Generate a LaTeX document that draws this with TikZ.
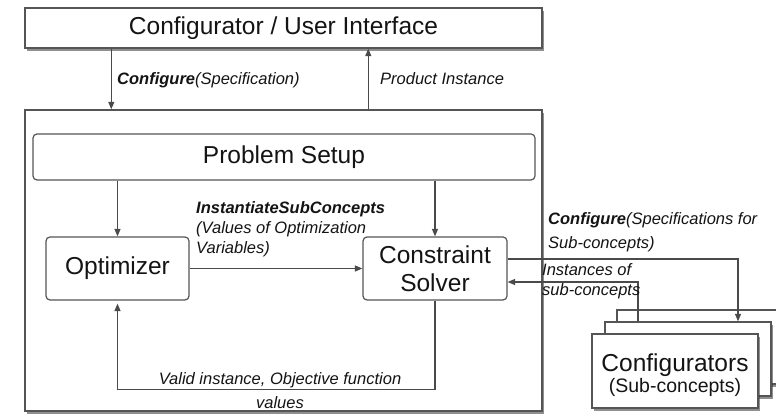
\documentclass[tikz,border=0pt]{standalone}
\usepackage{fontspec}
\setmainfont{Liberation Sans}
\usetikzlibrary{shadows,arrows.meta,calc}
\definecolor{linegray}{HTML}{4A4A4A}
\definecolor{boxgray}{HTML}{555555}
\definecolor{txt}{HTML}{141414}
\begin{document}
\begin{tikzpicture}[x=1pt,y=-1pt,
  line/.style={draw=linegray, line width=1.2pt},
  arr/.style={line, -{Triangle[length=7.5pt,width=6pt]}},
  shad/.style={drop shadow={shadow xshift=1.5pt,shadow yshift=-3pt,opacity=0.55,fill=black!80}},
  bigbox/.style={draw=boxgray, line width=1.4pt, fill=white, shad},
  rbox/.style={draw=boxgray, line width=1.2pt, fill=white, rounded corners=4pt, text=txt},
  card/.style={draw=boxgray, line width=1.3pt, fill=white, shad, minimum width=166pt, minimum height=74pt},
  big/.style={font=\fontsize{24.5}{28}\selectfont, text=txt},
  lab/.style={font=\fontsize{16.5}{20}\selectfont\itshape, align=left, inner sep=0pt, text=txt},
]
\fill[white] (0,0) rectangle (776,419);
\useasboundingbox (0,0) rectangle (776,419);

% main boxes
\node[bigbox, big, minimum width=517pt, minimum height=40pt] (ui) at (283.5,28) {Configurator / User Interface};
\node[bigbox, minimum width=517pt, minimum height=301pt] (sys) at (283.5,260.5) {};
\node[rbox, big, minimum width=502pt, minimum height=46pt] (ps) at (284,157) {Problem Setup};
\node[rbox, big, minimum width=143pt, minimum height=63pt] (opt) at (117.5,268.5) {Optimizer};
\node[rbox, big, minimum width=144pt, minimum height=63pt, align=center, inner sep=0pt] (cs) at (435,268.5) {Constraint\\Solver};

% sub-configurator cards
\node[card] (cfgb) at (700,347) {};
\node[card] (cfgm) at (688,359) {};
\node[card] (cfg) at (675,371) {};
\node[align=center, text=txt, inner sep=0pt] (cfgt) at ($(cfg.center)+(0,4)$)
  {{\fontsize{24.5}{26}\selectfont Configurators}\\[1pt]{\fontsize{19.5}{22}\selectfont (Sub-concepts)}};

% connectors
\draw[arr] ($(ui.south west)+(87,0)$) -- ($(sys.north west)+(87,0)$);
\draw[arr] ($(sys.north west)+(344,0)$) -- ($(ui.south west)+(344,0)$);
\draw[arr] (ps.south -| opt.north) -- (opt.north);
\draw[arr] (ps.south -| cs.north) -- (cs.north);
\draw[arr] (opt.east) -- (cs.west);
\draw[arr, shorten >=3pt] (cs.south) -- ++(0,89) -| (opt.south);
\draw[arr] ($(cs.east)+(0,-9.5)$) -| ($(cfgm.north)+(50,0)$);
\draw[arr] ($(cfgm.north)+(-50,0)$) |- ($(cs.east)+(0,13.5)$);

% labels
\node[lab, anchor=west] (l1) at (117,80) {\textbf{Configure}(Specification)};
\node[lab, anchor=west] (l2) at (380,79) {Product Instance};
\node[lab, anchor=north west] (l3) at (196,201) {\textbf{InstantiateSubConcepts}\\(Values of Optimization\\Variables)};
\node[lab, anchor=north west, font=\fontsize{16.5}{24}\selectfont\itshape] (l4) at (548,212) {\textbf{Configure}(Specifications for\\Sub-concepts)};
\node[lab, anchor=north west] (l5) at (542,263) {Instances of\\sub-concepts};
\node[lab, anchor=north, align=center, font=\fontsize{16.5}{24}\selectfont\itshape] (l6) at (280,372) {Valid instance, Objective function\\values};
\end{tikzpicture}
\end{document}
